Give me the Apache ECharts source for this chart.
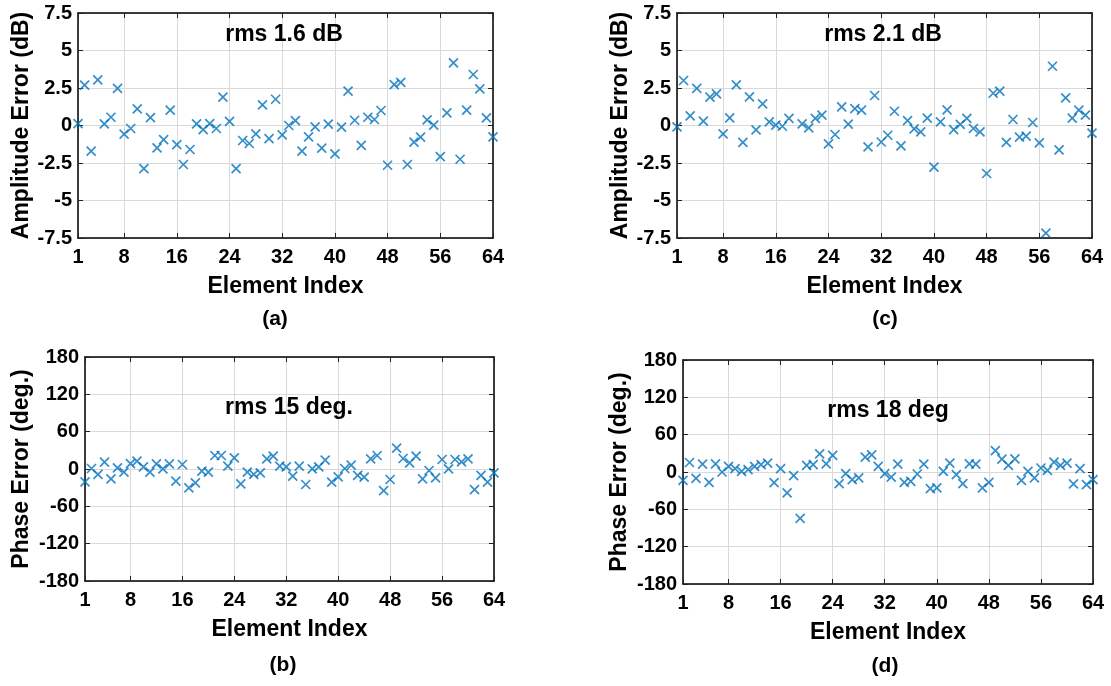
<!DOCTYPE html>
<html>
<head>
<meta charset="utf-8">
<script src="https://cdn.jsdelivr.net/npm/echarts@6.0.0/dist/echarts.min.js"></script>
<style>
html,body{margin:0;padding:0;background:#fff;}
#chart{width:1111px;height:686px;}
</style>
</head>
<body>
<div id="chart"></div>
<script>
// ---- data ----
const xTicks = [1, 8, 16, 24, 32, 40, 48, 56, 64];
const ampA = [0.13, 2.69, -1.71, 3.04, 0.11, 0.55, 2.47, -0.58, -0.2, 1.11,
  -2.87, 0.53, -1.49, -0.94, 1.02, -1.27, -2.6, -1.6, 0.11, -0.27,
  0.13, -0.2, 1.89, 0.27, -2.87, -1.0, -1.2, -0.56, 1.37, -0.87,
  1.75, -0.62, 0.0, 0.33, -1.71, -0.76, -0.09, -1.51, 0.09, -1.89,
  -0.11, 2.29, 0.35, -1.33, 0.55, 0.4, 1.0, -2.65, 2.73, 2.87,
  -2.6, -1.11, -0.78, 0.37, 0.02, -2.07, 0.84, 4.17, -2.25, 1.02,
  3.4, 2.44, 0.51, -0.76];
const ampC = [-0.09, 3.0, 0.64, 2.47, 0.29, 1.89, 2.11, -0.56, 0.51, 2.71,
  -1.13, 1.91, -0.29, 1.44, 0.24, 0.02, -0.05, 0.47, null, 0.11,
  -0.16, 0.47, 0.69, -1.23, -0.6, 1.24, 0.09, 1.13, 1.02, -1.42,
  2.0, -1.1, -0.65, 0.95, -1.36, 0.33, -0.22, -0.42, 0.49, -2.78,
  0.24, 1.04, -0.27, 0.07, 0.47, -0.2, -0.42, -3.2, 2.15, 2.29,
  -1.13, 0.4, -0.78, -0.71, 0.2, -1.16, -7.18, 3.95, -1.62, 1.84,
  0.49, 1.02, 0.69, -0.51];
const phaseB = [-20.6, 0.8, -8.8, 11, -15.8, 1.9, -5.1, 8.8, 12.6, 3.5,
  -5.1, 8.3, 0.3, 8.3, -19.6, 7.2, -30.3, -22.2, -3.5, -5.1,
  21.7, 21.7, 4.5, 18.0, -23.8, -5.1, -8.8, -6.2, 16.3, 20.6,
  4.5, 3.5, -11.5, 4.5, -24.9, 0.3, 3.5, 14.2, -21.2, -12.5,
  0.8, 6.1, -10.4, -13.2, 16.3, 21.7, -34.6, -16.9, 33.4, 16.9,
  9.9, 20.6, -15.8, -2.4, -14.2, 15.3, 0.3, 15.3, 11.5, 16.3,
  -33, -10.4, -21.2, -6.2];
const phaseD = [-13.4, 15.3, -10.2, 12.8, -16.6, 13.2, 0, 9.0, 5.3, 1,
  3.7, 9, 11.7, 14.3, -17, 5.3, -33.5, -5.9, -74.5, 10.6,
  11.7, 29.2, 13.2, 26.6, -18.7, -2.7, -12.3, -9.6, 23.9, 27.6,
  9.0, -2.5, -8.3, 12.8, -16.6, -15, -3.2, 12.8, -26.6, -25.5,
  1, 14.3, -4.3, -18.7, 13.2, 12.8, -25.5, -16.6, 34.5, 20.7,
  10.6, 21.2, -13.4, 1, -9.6, 6.4, 2.6, 16, 10.6, 14.3,
  -19.2, 5.3, -20.3, -12.3];
const rmsTitles = ['rms 1.6 dB', 'rms 2.1 dB', 'rms 15 deg.', 'rms 18 deg'];
const panelLabels = ['(a)', '(c)', '(b)', '(d)'];
const yNames = ['Amplitude Error (dB)', 'Amplitude Error (dB)', 'Phase Error (deg.)', 'Phase Error (deg.)'];
const xName = 'Element Index';
const ampRange = {min: -7.5, max: 7.5, interval: 2.5};
const phaseRange = {min: -180, max: 180, interval: 60};

// ---- layout ----
const FONT = '"Liberation Sans", Arial, sans-serif';
const grids = [
  {left: 78, top: 13, width: 415, height: 225},
  {left: 677, top: 13, width: 415, height: 225},
  {left: 85, top: 357, width: 409, height: 224},
  {left: 683, top: 360, width: 410, height: 224}
];
const ranges = [ampRange, ampRange, phaseRange, phaseRange];
const seriesData = [ampA, ampC, phaseB, phaseD];
const yNameGap = [45, 45, 52, 52];
const titlePos = [[284, 35], [883, 35], [289, 408], [888, 411]];
const labelPos = [[275, 319], [885, 319], [283, 665], [885, 666]];

const axisLineStyle = {color: '#000', width: 1.5};
const tickStyle = {color: '#222', width: 1};
const gridLineStyle = {color: '#d9d9d9', width: 1};
const labelFont = {color: '#000', fontFamily: FONT, fontWeight: 'bold', fontSize: 20};

const xAxes = [], yAxes = [], series = [], graphics = [];
grids.forEach((g, i) => {
  xAxes.push({
    type: 'value', gridIndex: i, min: 1, max: 64, position: 'bottom',
    name: xName, nameLocation: 'middle', nameGap: 37,
    nameTextStyle: {color: '#000', fontFamily: FONT, fontWeight: 'bold', fontSize: 23},
    axisLine: {show: true, onZero: false, lineStyle: axisLineStyle},
    axisTick: {show: true, inside: true, length: 5, customValues: xTicks, lineStyle: tickStyle},
    axisLabel: Object.assign({show: true, margin: 9, customValues: xTicks}, labelFont),
    splitLine: {show: true, lineStyle: gridLineStyle}
  });
  xAxes.push({
    type: 'value', gridIndex: i, min: 1, max: 64, position: 'top',
    axisLine: {show: true, onZero: false, lineStyle: axisLineStyle},
    axisTick: {show: true, inside: true, length: 5, customValues: xTicks, lineStyle: tickStyle},
    axisLabel: {show: false},
    splitLine: {show: false}
  });
  const r = ranges[i];
  yAxes.push({
    type: 'value', gridIndex: i, min: r.min, max: r.max, interval: r.interval, position: 'left',
    name: yNames[i], nameLocation: 'middle', nameGap: yNameGap[i], nameRotate: 90,
    nameTextStyle: {color: '#000', fontFamily: FONT, fontWeight: 'bold', fontSize: 23},
    axisLine: {show: true, onZero: false, lineStyle: axisLineStyle},
    axisTick: {show: true, inside: true, length: 5, lineStyle: tickStyle},
    axisLabel: Object.assign({show: true, margin: 6}, labelFont),
    splitLine: {show: true, lineStyle: gridLineStyle}
  });
  yAxes.push({
    type: 'value', gridIndex: i, min: r.min, max: r.max, interval: r.interval, position: 'right',
    axisLine: {show: true, onZero: false, lineStyle: axisLineStyle},
    axisTick: {show: true, inside: true, length: 5, lineStyle: tickStyle},
    axisLabel: {show: false},
    splitLine: {show: false}
  });
  series.push({
    type: 'scatter', xAxisIndex: 2 * i, yAxisIndex: 2 * i,
    data: seriesData[i].map((v, k) => [k + 1, v]),
    symbol: 'path://M0,0L10,10M10,0L0,10',
    symbolSize: 9,
    clip: true,
    itemStyle: {color: 'rgba(0,0,0,0)', borderColor: '#0072BD', borderWidth: 1.7},
    emphasis: {disabled: true},
    silent: true
  });
  graphics.push({
    type: 'text', x: titlePos[i][0], y: titlePos[i][1], z: 100,
    style: {text: rmsTitles[i], fill: '#000', font: 'bold 23px ' + FONT, textAlign: 'center', textVerticalAlign: 'middle'}
  });
  graphics.push({
    type: 'text', x: labelPos[i][0], y: labelPos[i][1], z: 100,
    style: {text: panelLabels[i], fill: '#000', font: 'bold 21px ' + FONT, textAlign: 'center', textVerticalAlign: 'middle'}
  });
});

const chart = echarts.init(document.getElementById('chart'), null, {renderer: 'canvas'});
chart.setOption({
  backgroundColor: '#fff',
  animation: false,
  grid: grids.map(g => Object.assign({containLabel: false}, g)),
  xAxis: xAxes,
  yAxis: yAxes,
  series: series,
  graphic: graphics
});
</script>
</body>
</html>
